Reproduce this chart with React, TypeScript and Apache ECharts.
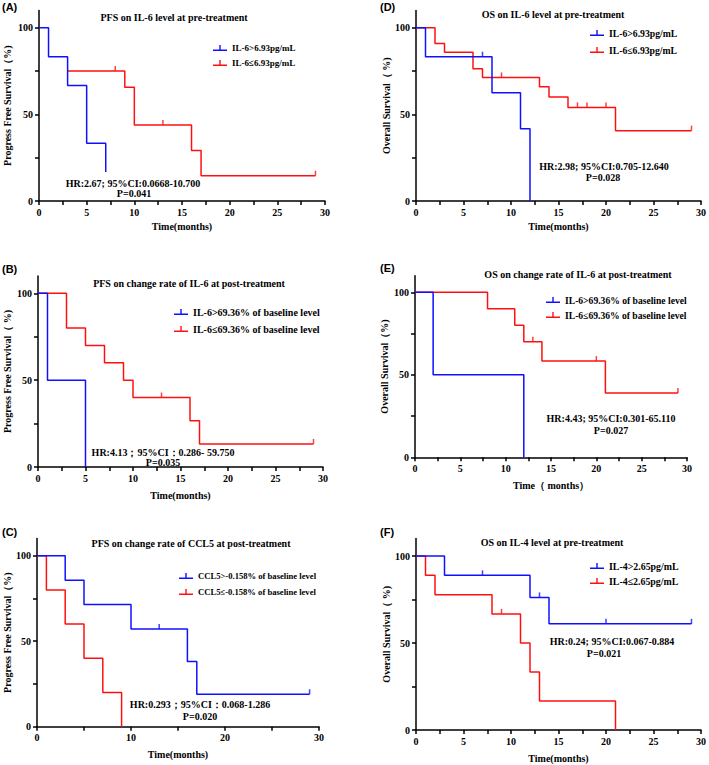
import React, { useEffect, useRef } from 'react';
import * as echarts from 'echarts';

// ---------- Data (time in months, survival in %) ----------
// Panel A: PFS on IL-6 level at pre-treatment
const aHighName = 'IL-6>6.93pg/mL';
const aLowName = 'IL-6≤6.93pg/mL';
const aHigh = [[0, 100], [1, 83.3], [3, 66.7], [5, 33.3], [7, 16.7]];
const aHighCens: number[][] = [];
const aLow = [[3, 75], [9, 65.6], [10, 43.8], [16, 29.2], [17, 14.6], [29, 14.6]];
const aLowCens = [[8, 75], [13, 43.8], [29, 14.6]];

// Panel D: OS on IL-6 level at pre-treatment
const dHigh = [[0, 100], [1, 83.3], [8, 62.5], [11, 41.7], [12, 0]];
const dHighCens = [[7, 83.3]];
const dLow = [[0, 100], [2, 90.9], [3, 85.8], [6, 76.3], [7, 71.3], [13, 66.0], [14, 60.0], [16, 54.0], [21, 40.6], [29, 40.6]];
const dLowCens = [[9, 71.3], [17, 54.0], [18, 54.0], [20, 54.0], [29, 40.6]];

// Panel B: PFS on change rate of IL-6 at post-treatment
const bHighName = 'IL-6>69.36% of baseline level';
const bLowName = 'IL-6≤69.36% of baseline level';
const bHigh = [[0, 100], [1, 50], [5, 0]];
const bHighCens: number[][] = [];
const bLow = [[0, 100], [3, 80], [5, 70], [7, 60], [9, 50], [10, 40], [16, 26.7], [17, 13.3], [29, 13.3]];
const bLowCens = [[13, 40], [29, 13.3]];

// Panel E: OS on change rate of IL-6 at post-treatment
const eHigh = [[0, 100], [2, 50], [12, 0]];
const eHighCens: number[][] = [];
const eLow = [[0, 100], [8, 90], [11, 80], [12, 70], [14, 58.3], [21, 38.9], [29, 38.9]];
const eLowCens = [[13, 70], [20, 58.3], [29, 38.9]];

// Panel C: PFS on change rate of CCL5 at post-treatment
const cHighName = 'CCL5>-0.158% of baseline level';
const cLowName = 'CCL5≤-0.158% of baseline level';
const cHigh = [[0, 100], [3, 85.7], [5, 71.4], [10, 57.1], [16, 38.1], [17, 19.0], [29, 19.0]];
const cHighCens = [[13, 57.1], [29, 19.0]];
const cLow = [[0, 100], [1, 80], [3, 60], [5, 40], [7, 20], [9, 0]];
const cLowCens: number[][] = [];

// Panel F: OS on IL-4 level at pre-treatment
const fHighName = 'IL-4>2.65pg/mL';
const fLowName = 'IL-4≤2.65pg/mL';
const fHigh = [[0, 100], [3, 88.9], [12, 76.2], [14, 61.0], [29, 61.0]];
const fHighCens = [[7, 88.9], [13, 76.2], [20, 61.0], [29, 61.0]];
const fLow = [[0, 100], [1, 88.9], [2, 77.8], [8, 66.7], [11, 50], [12, 33.3], [13, 16.7], [21, 0]];
const fLowCens = [[9, 66.7]];

const yLabelValues = [0, 50, 100];
const yTickValues = [0, 25, 50, 75, 100];
const xLabels5 = [0, 5, 10, 15, 20, 25, 30];
const xLabels10 = [0, 10, 20, 30];

const BLUE = '#1010ff';
const RED = '#ff1010';
const SERIF = '"Liberation Serif", "Times New Roman", serif';
const SANS = '"Liberation Sans", Arial, sans-serif';
const CENSOR_ICON = 'path://M0,4.6L14,4.6L14,6L0,6Z M6.3,0L7.7,0L7.7,5L6.3,5Z';

type Panel = {
  tag: string;
  title: string;
  titleX: number;
  titleY: number;
  tagX: number;
  tagY: number;
  grid: { left: number; top: number; width: number; height: number };
  xStep: number;
  xLabels: number[];
  xName: string;
  xGap: number;
  yName: string;
  yGap: number;
  highName: string;
  lowName: string;
  high: number[][];
  highCens: number[][];
  low: number[][];
  lowCens: number[][];
  legendLeft: number;
  legendTop: number;
  legendGap: number;
  legendFont: number;
  hr: string;
  p: string;
  hrX: number;
  hrY: number;
  pX: number;
  pY: number;
};

const panels: Panel[] = [
  {
    tag: '(A)', title: 'PFS on IL-6 level at pre-treatment', titleX: 174, titleY: 17, tagX: 2, tagY: 7,
    grid: { left: 39, top: 10.4, width: 286, height: 190.6 },
    xStep: 2.5, xLabels: xLabels5, xName: 'Time(months)', xGap: 20,
    yName: 'Progress Free Survival（%)', yGap: 27,
    highName: aHighName, lowName: aLowName, high: aHigh, highCens: aHighCens, low: aLow, lowCens: aLowCens,
    legendLeft: 213, legendTop: 42, legendGap: 3, legendFont: 9,
    hr: 'HR:2.67; 95%CI:0.0668-10.700', p: 'P=0.041', hrX: 133, hrY: 183, pX: 134, pY: 193,
  },
  {
    tag: '(D)', title: 'OS on IL-6 level at pre-treatment', titleX: 553, titleY: 14, tagX: 380, tagY: 7,
    grid: { left: 416, top: 10.4, width: 286, height: 190.6 },
    xStep: 2.5, xLabels: xLabels5, xName: 'Time(months)', xGap: 20,
    yName: 'Overall Survival（ %)', yGap: 25,
    highName: aHighName, lowName: aLowName, high: dHigh, highCens: dHighCens, low: dLow, lowCens: dLowCens,
    legendLeft: 590, legendTop: 27, legendGap: 5, legendFont: 9.7,
    hr: 'HR:2.98; 95%CI:0.705-12.640', p: 'P=0.028', hrX: 604, hrY: 166, pX: 603, pY: 177,
  },
  {
    tag: '(B)', title: 'PFS on change rate of IL-6 at post-treatment', titleX: 189, titleY: 283, tagX: 2, tagY: 269,
    grid: { left: 38, top: 276, width: 285, height: 191 },
    xStep: 2.5, xLabels: xLabels5, xName: 'Time(months)', xGap: 23,
    yName: 'Progress Free Survival（ %)', yGap: 26,
    highName: bHighName, lowName: bLowName, high: bHigh, highCens: bHighCens, low: bLow, lowCens: bLowCens,
    legendLeft: 174, legendTop: 306, legendGap: 5, legendFont: 10,
    hr: 'HR:4.13；95%CI：0.286- 59.750', p: 'P=0.035', hrX: 163, hrY: 452, pX: 163, pY: 462,
  },
  {
    tag: '(E)', title: 'OS on change rate of IL-6 at post-treatment', titleX: 578, titleY: 274, tagX: 380, tagY: 268,
    grid: { left: 415, top: 275.8, width: 272, height: 181.5 },
    xStep: 2.5, xLabels: xLabels5, xName: 'Time（ months）', xGap: 23,
    yName: 'Overall Survival（%)', yGap: 26,
    highName: bHighName, lowName: bLowName, high: eHigh, highCens: eHighCens, low: eLow, lowCens: eLowCens,
    legendLeft: 546, legendTop: 294, legendGap: 3, legendFont: 9.6,
    hr: 'HR:4.43; 95%CI:0.301-65.110', p: 'P=0.027', hrX: 611, hrY: 418, pX: 611, pY: 430,
  },
  {
    tag: '(C)', title: 'PFS on change rate of CCL5 at post-treatment', titleX: 191, titleY: 543, tagX: 2, tagY: 532,
    grid: { left: 37, top: 538.6, width: 282, height: 188.1 },
    xStep: 5, xLabels: xLabels10, xName: 'Time(months)', xGap: 23,
    yName: 'Progress Free Survival（%)', yGap: 25,
    highName: cHighName, lowName: cLowName, high: cHigh, highCens: cHighCens, low: cLow, lowCens: cLowCens,
    legendLeft: 179, legendTop: 570, legendGap: 4, legendFont: 8.6,
    hr: 'HR:0.293；95%CI：0.068-1.286', p: 'P=0.020', hrX: 200, hrY: 704, pX: 200, pY: 716,
  },
  {
    tag: '(F)', title: 'OS on IL-4 level at pre-treatment', titleX: 552, titleY: 542, tagX: 380, tagY: 532,
    grid: { left: 416, top: 538.6, width: 286, height: 191.4 },
    xStep: 2.5, xLabels: xLabels5, xName: 'Time(months)', xGap: 23,
    yName: 'Overall Survival（ %)', yGap: 25,
    highName: fHighName, lowName: fLowName, high: fHigh, highCens: fHighCens, low: fLow, lowCens: fLowCens,
    legendLeft: 590, legendTop: 560, legendGap: 3, legendFont: 9.9,
    hr: 'HR:0.24; 95%CI:0.067-0.884', p: 'P=0.021', hrX: 612, hrY: 641, pX: 604, pY: 653,
  },
];

const axisFont = { fontFamily: SERIF, fontWeight: 'bold' as const, fontSize: 10, color: '#000' };
const axisLineStyle = { color: '#000', width: 1.5 };

function buildOption() {
  const grid = panels.map((p) => ({ ...p.grid, containLabel: false }));
  const xAxis = panels.map((p, i) => ({
    type: 'value',
    gridIndex: i,
    min: 0,
    max: 30,
    interval: p.xStep,
    splitLine: { show: false },
    axisLine: { show: true, onZero: false, lineStyle: axisLineStyle },
    axisTick: { show: true, length: 4, lineStyle: axisLineStyle },
    axisLabel: {
      ...axisFont,
      margin: 6,
      formatter: (v: number) => (p.xLabels.indexOf(v) >= 0 ? String(v) : ''),
    },
    name: p.xName,
    nameLocation: 'middle',
    nameGap: p.xGap,
    nameTextStyle: { ...axisFont },
  }));
  const yAxis = panels.map((p, i) => ({
    type: 'value',
    gridIndex: i,
    min: 0,
    max: 110,
    splitLine: { show: false },
    axisLine: { show: true, onZero: false, lineStyle: axisLineStyle },
    axisTick: { show: true, length: 4, lineStyle: axisLineStyle, customValues: yTickValues },
    axisLabel: { ...axisFont, margin: 6, customValues: yLabelValues },
    name: p.yName,
    nameLocation: 'middle',
    nameGap: p.yGap,
    nameRotate: 90,
    nameTextStyle: { ...axisFont },
  }));
  const series: any[] = [];
  panels.forEach((p, i) => {
    const base = { xAxisIndex: i, yAxisIndex: i, silent: true };
    series.push({
      ...base, type: 'line', name: p.lowName, data: p.low, step: 'end', showSymbol: false, symbol: 'none',
      lineStyle: { color: RED, width: 1.5 }, itemStyle: { color: RED },
    });
    series.push({
      ...base, type: 'scatter', name: p.lowName + ' censored ' + p.tag, data: p.lowCens, symbol: 'rect',
      symbolSize: [1.5, 5], symbolOffset: [0, -2.5], itemStyle: { color: RED },
    });
    series.push({
      ...base, type: 'line', name: p.highName, data: p.high, step: 'end', showSymbol: false, symbol: 'none',
      lineStyle: { color: BLUE, width: 1.5 }, itemStyle: { color: BLUE },
    });
    series.push({
      ...base, type: 'scatter', name: p.highName + ' censored ' + p.tag, data: p.highCens, symbol: 'rect',
      symbolSize: [1.5, 5], symbolOffset: [0, -2.5], itemStyle: { color: BLUE },
    });
  });
  const legend = panels.map((p) => ({
    data: [p.highName, p.lowName],
    orient: 'vertical',
    left: p.legendLeft,
    top: p.legendTop,
    padding: 0,
    itemWidth: 14,
    itemHeight: 6,
    itemGap: p.legendGap,
    icon: CENSOR_ICON,
    selectedMode: false,
    textStyle: { fontFamily: SERIF, fontWeight: 'bold', fontSize: p.legendFont, color: '#000', lineHeight: 12 },
  }));
  const graphic: any[] = [];
  panels.forEach((p) => {
    graphic.push({
      type: 'text', x: p.tagX, y: p.tagY,
      style: { text: p.tag, font: `bold 11px ${SANS}`, fill: '#000', align: 'left', verticalAlign: 'middle' },
    });
    graphic.push({
      type: 'text', x: p.titleX, y: p.titleY,
      style: { text: p.title, font: `bold 10px ${SERIF}`, fill: '#000', align: 'center', verticalAlign: 'middle' },
    });
    graphic.push({
      type: 'text', x: p.hrX, y: p.hrY,
      style: { text: p.hr, font: `bold 10px ${SERIF}`, fill: '#000', align: 'center', verticalAlign: 'middle' },
    });
    graphic.push({
      type: 'text', x: p.pX, y: p.pY,
      style: { text: p.p, font: `bold 10px ${SERIF}`, fill: '#000', align: 'center', verticalAlign: 'middle' },
    });
  });
  return {
    animation: false,
    backgroundColor: '#ffffff',
    grid,
    xAxis,
    yAxis,
    legend,
    series,
    graphic,
  };
}

export default function App() {
  const ref = useRef<HTMLDivElement>(null);
  useEffect(() => {
    if (!ref.current) return;
    const chart = echarts.init(ref.current, undefined, { renderer: 'svg' });
    chart.setOption(buildOption() as any);
    return () => chart.dispose();
  }, []);
  return (
    <div
      ref={ref}
      style={{ position: 'absolute', left: 0, top: 0, width: 709, height: 765, background: '#fff' }}
    />
  );
}
